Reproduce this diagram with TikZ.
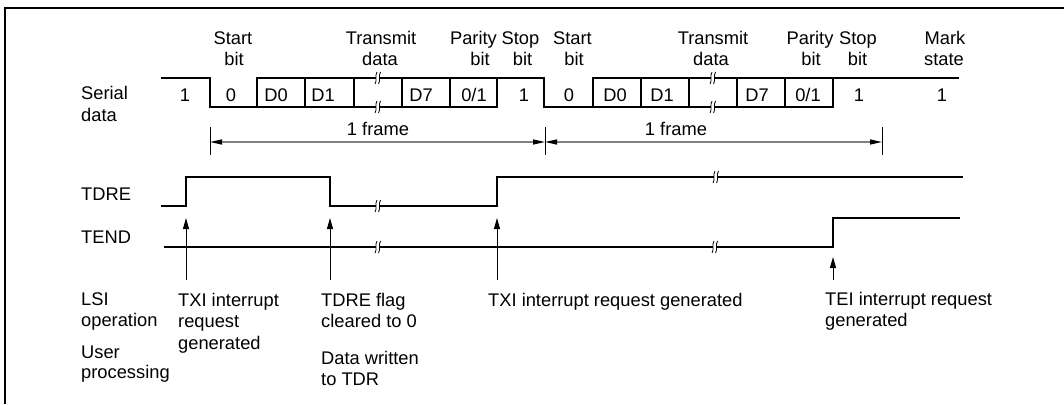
\documentclass[tikz,border=0pt]{standalone}
\usepackage{fontspec}
\setmainfont{Liberation Sans}
\usetikzlibrary{arrows.meta}
\newcommand\diafont{\fontsize{18.3}{21}\selectfont}
\definecolor{dimgray}{RGB}{128,128,128}
\begin{document}
\begin{tikzpicture}[x=1pt,y=-1pt,
  sig/.style={line width=2pt, line join=miter, line cap=rect},
  framel/.style={line width=2.4pt},
  upar/.style={line width=1pt, -{Triangle[length=11pt,width=6pt]}},
  dimline/.style={line width=1.2pt, draw=dimgray,
    {Triangle[length=12pt,width=5pt,color=black]}-{Triangle[length=12pt,width=5pt,color=black]}},
  barl/.style={line width=1pt},
  txt/.style={inner sep=0pt, font=\diafont, anchor=base},
  ltxt/.style={txt, anchor=base west},
  brk/.pic={
    \fill[white] (-1.6,-5) rectangle (1.6,5);
    \draw[line width=0.8pt] (-3,6) .. controls (-0.5,2) and (-3.5,-2) .. (-1,-6);
    \draw[line width=0.8pt] (0.5,6) .. controls (3,2) and (0,-2) .. (2.5,-6);
  }
]
\useasboundingbox (0,0) rectangle (1064,404);
% frame
\draw[framel] (5,404) -- (5,8) -- (1064,8);

% ---------- serial data waveform
\draw[sig] (162,78) -- (210,78) -- (210,107) -- (497,107) -- (497,78);
\draw[sig] (257,107) -- (257,78) -- (544,78) -- (544,107) -- (833,107) -- (833,78);
\draw[sig] (593,107) -- (593,78) -- (958,78);
\foreach \x in {305,354,402,450,641,689,737,785}
  \draw[sig] (\x,78) -- (\x,107);
\pic at (378,78) {brk};
\pic at (378,107) {brk};
\pic at (713,78) {brk};
\pic at (713,107) {brk};

% ---------- TDRE
\draw[sig] (162,206) -- (186,206) -- (186,177) -- (330,177) -- (330,206) -- (497,206) -- (497,177) -- (962,177);
\pic at (378,206) {brk};
\pic at (716,177) {brk};

% ---------- TEND
\draw[sig] (165,247) -- (833,247) -- (833,218) -- (959,218);
\pic at (378,247) {brk};
\pic at (715,247) {brk};

% ---------- arrows
\coordinate (a1b) at (186,280); \coordinate (a1t) at (186,218);
\coordinate (a2b) at (330,280); \coordinate (a2t) at (330,218);
\coordinate (a3b) at (497,280); \coordinate (a3t) at (497,218);
\coordinate (a4b) at (833,280); \coordinate (a4t) at (833,257);
\draw[upar] (a1b) -- (a1t);
\draw[upar] (a2b) -- (a2t);
\draw[upar] (a3b) -- (a3t);
\draw[upar] (a4b) -- (a4t);

% ---------- frame dimension
\coordinate (f1) at (210,142); \coordinate (f2) at (545,142); \coordinate (f3) at (882,142);
\foreach \x in {210,545,882}
  \draw[barl] (\x,127) -- (\x,155);
\draw[dimline] (f1) -- (f2);
\draw[dimline] (f2) -- (f3);
\node[txt] (fr1) at (378,135) {1 frame};
\node[txt] (fr2) at (676,135) {1 frame};

% ---------- top labels
\node[txt] (s1a) at (233,44.5) {Start};   \node[txt] (s1b) at (234,65.7) {bit};
\node[txt] (t1a) at (381,44.5) {Transmit};\node[txt] (t1b) at (380,65.7) {data};
\node[txt] (p1a) at (473.5,44.5) {Parity};\node[txt] (p1b) at (480,65.7) {bit};
\node[txt] (o1a) at (520.5,44.5) {Stop};  \node[txt] (o1b) at (522.5,65.7) {bit};
\node[txt] (s2a) at (572.5,44.5) {Start}; \node[txt] (s2b) at (574,65.7) {bit};
\node[txt] (t2a) at (713,44.5) {Transmit};\node[txt] (t2b) at (711,65.7) {data};
\node[txt] (p2a) at (810,44.5) {Parity};  \node[txt] (p2b) at (811,65.7) {bit};
\node[txt] (o2a) at (858,44.5) {Stop};    \node[txt] (o2b) at (857.5,65.7) {bit};
\node[txt] (mka) at (945,44.5) {Mark};    \node[txt] (mkb) at (944,65.7) {state};

% ---------- data values
\node[txt] (v0) at (185,101) {1};
\node[txt] (v1) at (231,101) {0};
\node[txt] (v2) at (276,101) {D0};
\node[txt] (v3) at (323,101) {D1};
\node[txt] (v4) at (421,101) {D7};
\node[txt] (v5) at (474,101) {0/1};
\node[txt] (v6) at (524,101) {1};
\node[txt] (w1) at (569,101) {0};
\node[txt] (w2) at (615,101) {D0};
\node[txt] (w3) at (662,101) {D1};
\node[txt] (w4) at (757,101) {D7};
\node[txt] (w5) at (808,101) {0/1};
\node[txt] (w6) at (859,101) {1};
\node[txt] (w7) at (942,101) {1};

% ---------- left labels
\node[ltxt] (sda) at (81,99.5) {Serial};
\node[ltxt] (sdb) at (81,121) {data};
\node[ltxt] (tdre) at (81,200) {TDRE};
\node[ltxt] (tend) at (81,243) {TEND};
\node[ltxt] (lsia) at (81,305.5) {LSI};
\node[ltxt] (lsib) at (81,326.5) {operation};
\node[ltxt] (usra) at (81,358) {User};
\node[ltxt] (usrb) at (81,378) {processing};

% ---------- bottom labels
\node[ltxt] (e1a) at (178,306) {TXI interrupt};
\node[ltxt] (e1b) at (178,327) {request};
\node[ltxt] (e1c) at (178,349) {generated};
\node[ltxt] (e2a) at (321,306) {TDRE flag};
\node[ltxt] (e2b) at (321,327) {cleared to 0};
\node[ltxt] (e2c) at (321,364) {Data written};
\node[ltxt] (e2d) at (321,385) {to TDR};
\node[ltxt] (e3a) at (488,306) {TXI interrupt request generated};
\node[ltxt] (e4a) at (825,305.5) {TEI interrupt request};
\node[ltxt] (e4b) at (825,326.7) {generated};
\end{tikzpicture}
\end{document}
